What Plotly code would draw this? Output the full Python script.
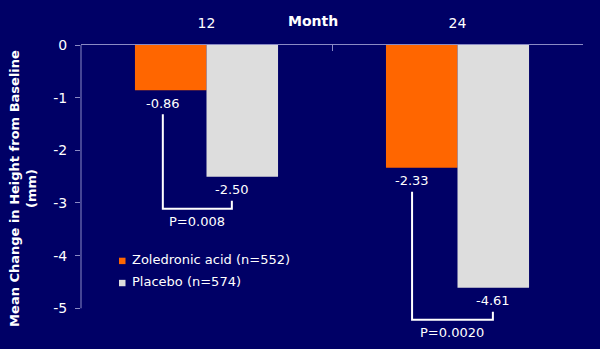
import plotly.graph_objects as go

months = ["12", "24"]
zoledronic = [-0.86, -2.33]
placebo = [-2.50, -4.61]
p_values = ["P=0.008", "P=0.0020"]
series_names = ["Zoledronic acid (n=552)", "Placebo (n=574)"]
y_ticks = [0, -1, -2, -3, -4, -5]

BG = "#000066"
ORANGE = "#ff6600"
GREY = "#dddddd"
AXIS = "#8a8ac4"
FONT = "DejaVu Sans"

fig = go.Figure()
fig.add_trace(go.Bar(x=months, y=zoledronic, name=series_names[0],
                     marker=dict(color=ORANGE, line=dict(width=0)), showlegend=False))
fig.add_trace(go.Bar(x=months, y=placebo, name=series_names[1],
                     marker=dict(color=GREY, line=dict(width=0)), showlegend=False))

ppu = 52.7  # approx pixels per y unit
label_dx = [(-0.174, 0.101), (-0.181, 0.141)]
annotations = []
shapes = []
for i, m in enumerate(months):
    vz, vp = zoledronic[i], placebo[i]
    xl, xr = i + label_dx[i][0], i + label_dx[i][1]
    for x, v in ((xl, vz), (xr, vp)):
        annotations.append(dict(x=x, y=v, xref="x", yref="y", text=f"{v:.2f}",
                                showarrow=False, yshift=-13, yanchor="middle",
                                font=dict(family=FONT, size=13, color="white")))
    top_l = vz - 24 / ppu
    top_r = vp - 24 / ppu
    bot = top_r - 8 / ppu
    path = f"M {xl},{top_l} L {xl},{bot} L {xr},{bot} L {xr},{top_r}"
    shapes.append(dict(type="path", path=path, xref="x", yref="y",
                       line=dict(color="white", width=2)))
    annotations.append(dict(x=(xl + xr) / 2, y=bot, xref="x", yref="y", text=p_values[i],
                            showarrow=False, yshift=-13, yanchor="middle",
                            font=dict(family=FONT, size=13, color="white")))

# y axis line (only 0 to -5)
shapes.append(dict(type="line", xref="paper", yref="y", x0=0, x1=0, y0=0, y1=-5,
                   line=dict(color=AXIS, width=1)))

# Month label
annotations.append(dict(x=0.463, y=1, xref="paper", yref="paper", yshift=24,
                        text="<b>Month</b>", showarrow=False, yanchor="middle",
                        font=dict(family=FONT, size=14, color="white")))

# custom legend
colors = [ORANGE, GREY]
for k, name in enumerate(series_names):
    ly = -4.08 - k * 0.42
    shapes.append(dict(type="rect", xref="paper", yref="y",
                       x0=(119 - 81) / 502, x1=(125.5 - 81) / 502,
                       y0=ly - 0.02 - 3.2 / ppu, y1=ly - 0.02 + 3.2 / ppu,
                       fillcolor=colors[k], line=dict(width=0)))
    annotations.append(dict(x=(129.5 - 81) / 502, y=ly, xref="paper", yref="y",
                            xanchor="left", yanchor="middle", showarrow=False,
                            text=name,
                            font=dict(family=FONT, size=13, color="white")))

fig.update_layout(
    width=600, height=349,
    margin=dict(l=81, r=17, t=45, b=17),
    paper_bgcolor=BG, plot_bgcolor=BG,
    barmode="group", bargap=0.43, bargroupgap=0,
    font=dict(family=FONT, color="white"),
    shapes=shapes, annotations=annotations,
    xaxis=dict(type="category", side="top", showline=True, linecolor=AXIS, linewidth=1,
               ticks="inside", tickson="boundaries", ticklen=6, tickcolor=AXIS,
               showgrid=False, tickfont=dict(family=FONT, size=14, color="white"),
               ticklabelstandoff=10, range=[-0.5, 1.5]),
    yaxis=dict(range=[-5.45, 0], tickvals=y_ticks, ticktext=[str(t) for t in y_ticks],
               showline=False, zeroline=False, showgrid=False,
               ticks="outside", ticklen=5, tickcolor=AXIS, ticklabelstandoff=5,
               tickfont=dict(family=FONT, size=14, color="white"),
               title=dict(text="<b>Mean Change in Height from Baseline<br>(mm)</b>",
                          font=dict(family=FONT, size=13, color="white"), standoff=13)),
)

fig.write_html("out.html")
